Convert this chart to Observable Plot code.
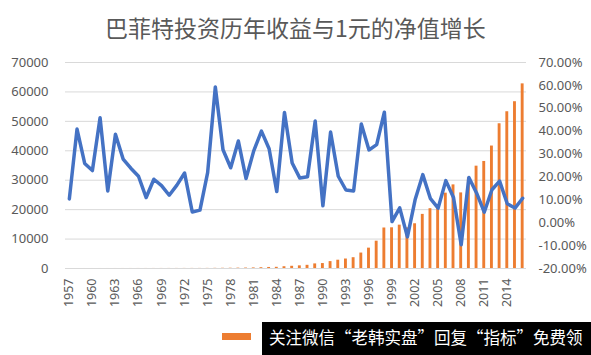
<!DOCTYPE html>
<html>
<head>
<meta charset="utf-8">
<script src="https://cdn.jsdelivr.net/npm/d3@7"></script>
<script src="https://cdn.jsdelivr.net/npm/@observablehq/plot@0.6"></script>
<style>
  html, body { margin: 0; padding: 0; background: #ffffff; }
  #wrap { position: relative; width: 591px; height: 355px; overflow: hidden; background: #ffffff; }
  #title { position: absolute; top: 0; left: 0; width: 591px; height: 54px; line-height: 54px; text-align: center;
           font-family: "Noto Sans CJK SC", sans-serif; font-size: 23px; color: #595959; }
  #chart { position: absolute; top: 50px; left: 0; }
  #legendSwatch { position: absolute; left: 222px; top: 333px; width: 29px; height: 7px; background: #ED7D31; }
  #mark { position: absolute; left: 262px; top: 322px; width: 329px; height: 33px; background: #000000; color: #ffffff;
          font-family: "Noto Sans CJK SC", sans-serif; font-size: 16.5px; line-height: 31px; padding-left: 7px; box-sizing: border-box; white-space: nowrap; }
</style>
</head>
<body>
<div id="wrap">
  <div id="title">巴菲特投资历年收益与1元的净值增长</div>
  <div id="chart"></div>
  <div id="legendSwatch"></div>
  <div id="mark">关注微信“老韩实盘”回复“指标”免费领</div>
</div>
<script>
const years = [1957,1958,1959,1960,1961,1962,1963,1964,1965,1966,
               1967,1968,1969,1970,1971,1972,1973,1974,1975,1976,
               1977,1978,1979,1980,1981,1982,1983,1984,1985,1986,
               1987,1988,1989,1990,1991,1992,1993,1994,1995,1996,
               1997,1998,1999,2000,2001,2002,2003,2004,2005,2006,
               2007,2008,2009,2010,2011,2012,2013,2014,2015,2016];

// annual return, percent (right axis)
const returnsPct = [10.4,40.9,25.9,22.8,45.9,13.9,38.7,27.8,23.8,20.3,
                    11.0,19.0,16.2,12.0,16.4,21.7,4.7,5.5,21.9,59.3,
                    31.9,24.0,35.7,19.3,31.4,40.0,32.3,13.6,48.2,26.1,
                    19.5,20.1,44.4,7.4,39.6,20.3,14.3,13.9,43.1,31.8,
                    34.1,48.3,0.5,6.5,-6.2,10.0,21.0,10.5,6.4,18.4,
                    11.0,-9.6,19.8,13.0,4.6,14.4,18.2,8.3,6.4,10.7];

// net value of 1 yuan (left axis)
const netValue = [1.1,1.6,2.0,2.4,3.5,4.0,5.5,7.1,8.8,10.6,
                  11.7,13.9,16.2,18.1,21.1,25.7,26.9,28.4,34.6,55.1,
                  72.7,90.1,122,146,192,268,355,403,598,754,
                  901,1082,1562,1678,2343,2818,3221,3669,5250,6920,
                  9280,13762,13830,14729,13816,15198,18389,20320,21621,25599,
                  28415,25687,30773,34773,36373,41611,49184,53266,56675,62739];

const leftTicks = [0,10000,20000,30000,40000,50000,60000,70000];
const rightTickLabels = ["-20.00%","-10.00%","0.00%","10.00%","20.00%","30.00%","40.00%","50.00%","60.00%","70.00%"];
const rightTickPct = [-20,-10,0,10,20,30,40,50,60,70];
const xTickYears = [1957,1960,1963,1966,1969,1972,1975,1978,1981,1984,1987,1990,1993,1996,1999,2002,2005,2008,2011,2014];

const data = years.map((year, i) => ({year, ret: returnsPct[i], nav: netValue[i]}));
// right axis (-20%..70%) shares the frame with left axis (0..70000)
const pctToLeft = p => (p + 20) / 90 * 70000;

const chart = Plot.plot({
  width: 591,
  height: 280,
  marginTop: 12,
  marginBottom: 62,
  marginLeft: 65,
  marginRight: 65,
  style: {fontFamily: "'Noto Sans', sans-serif", fontSize: "13px", color: "#595959", background: "transparent"},
  x: {type: "band", domain: years, padding: 0},
  y: {domain: [0, 70000]},
  marks: [
    Plot.gridY(leftTicks, {stroke: "#d9d9d9", strokeOpacity: 1, strokeWidth: 1}),
    Plot.barY(data, {x: "year", y: "nav", fill: "#ED7D31", insetLeft: 2.4, insetRight: 2.4}),
    Plot.lineY(data, {x: "year", y: d => pctToLeft(d.ret), stroke: "#4472C4", strokeWidth: 3.5,
                      strokeLinejoin: "round", strokeLinecap: "round"}),
    Plot.axisY({ticks: leftTicks, anchor: "left", tickSize: 0, tickPadding: 17, label: null,
                tickFormat: d => String(d)}),
    Plot.axisY({ticks: rightTickPct.map(pctToLeft), anchor: "right", tickSize: 0, tickPadding: 12, label: null,
                tickFormat: d => rightTickLabels[Math.round(d / 70000 * 90 / 10)]}),
    Plot.axisX({ticks: xTickYears, anchor: "bottom", tickSize: 0, tickPadding: 10, tickRotate: -90, label: null,
                fontSize: 12.5, tickFormat: d => String(d)})
  ]
});
document.getElementById("chart").appendChild(chart);
</script>
</body>
</html>
